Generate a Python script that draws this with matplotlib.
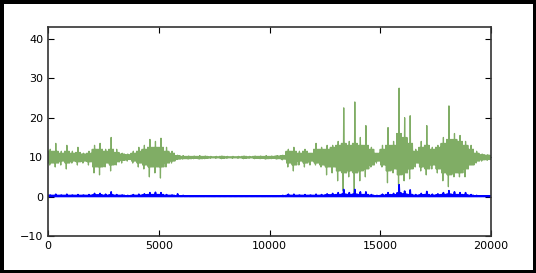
import numpy as np
import matplotlib.pyplot as plt

# envelope values, one per 250-step bin (0 .. 20000)
x_step = 250
green_peak_hi = [12, 13.5, 11.5, 13, 11.5, 12.5, 11, 11.5, 13, 13.5, 12, 15, 12, 11, 10.8, 11.5,
                 12.5, 13, 14.5, 14, 14.8, 12.5, 11.5, 10.5,
                 10.4, 10.3, 10.3, 10.4, 10.3, 10.2, 10.2, 10.3, 10.2, 10.2, 10.2, 10.3, 10.2,
                 10.3, 10.3, 10.4, 10.3, 10.4, 10.5,
                 12, 12.5, 11.5, 12, 11, 13.5, 12.5, 13, 13, 14, 22.5, 14, 24, 15, 18, 12.5, 11,
                 13, 17.5, 14, 27.5, 20, 20.5, 12, 14, 18, 12.5, 13, 15, 23, 16, 15.5, 14, 13,
                 11.5, 10.8, 10.6, 10.5]
green_band_hi = [11.5, 11.5, 11, 11.5, 11, 11.2, 10.8, 11, 12, 12, 11.5, 12, 11.2, 10.8, 10.6, 11,
                 11.5, 12, 12.5, 12.5, 12.5, 11.5, 11, 10.4,
                 10.2, 10.2, 10.2, 10.2, 10.2, 10.1, 10.1, 10.2, 10.1, 10.1, 10.1, 10.2, 10.1,
                 10.2, 10.2, 10.2, 10.2, 10.3, 10.4,
                 11.5, 11.5, 11, 11.5, 11, 12, 12, 12, 12.5, 13, 13.5, 13, 13.5, 13, 13, 12, 11,
                 12, 13, 13, 16, 15, 13.5, 11.5, 12.5, 13, 12, 12.5, 13.5, 14.5, 14.5, 14, 13, 12,
                 11, 10.6, 10.5, 10.4]
green_band_lo = [8.5, 8.5, 9, 8.5, 9, 8.8, 9, 8.8, 7.5, 7.5, 8.5, 8, 8.8, 9.2, 9.4, 9,
                 8.5, 8, 7.5, 7.5, 7.5, 8.5, 9, 9.5,
                 9.6, 9.6, 9.7, 9.6, 9.7, 9.8, 9.8, 9.7, 9.8, 9.8, 9.8, 9.7, 9.8,
                 9.7, 9.7, 9.6, 9.7, 9.6, 9.5,
                 8.5, 8, 9, 8.5, 9, 8.5, 8, 7.5, 7.5, 6.5, 6, 6.5, 6, 6.5, 7, 8, 9,
                 8, 6.5, 7, 5.5, 6, 7, 8.5, 7.5, 7, 8, 7, 6, 5.5, 6, 6, 7, 8,
                 9, 9.3, 9.4, 9.5]
green_peak_lo = [8, 7.5, 8, 7, 8.5, 8, 8.5, 8, 6, 5.5, 7.5, 6.5, 8, 8.5, 9, 8.5,
                 7.5, 7, 5, 6, 4.7, 7.5, 8.5, 9.4,
                 9.5, 9.5, 9.6, 9.5, 9.6, 9.7, 9.7, 9.6, 9.7, 9.7, 9.7, 9.6, 9.7,
                 9.6, 9.6, 9.5, 9.6, 9.5, 9.3,
                 7.5, 6.5, 8, 7.5, 8, 8, 7.5, 5.5, 6, 4, 1.5, 5, 0.5, 4, 5, 7.5, 8.5,
                 7.5, 3.5, 6, 3, 4, 4.5, 7.5, 6.5, 5.5, 7, 6, 4, 2.5, 5, 5, 5, 8,
                 8.5, 9, 9.2, 9.3]
blue_peak_hi = [0.4, 0.6, 0.4, 0.6, 0.4, 0.5, 0.4, 0.5, 0.8, 0.8, 0.6, 1.2, 0.5, 0.4, 0.3, 0.5,
                0.6, 0.7, 1.0, 1.1, 1.0, 0.5, 0.4, 0.7,
                0.3, 0.2, 0.2, 0.2, 0.2, 0.2, 0.2, 0.2, 0.2, 0.2, 0.2, 0.2, 0.2,
                0.2, 0.2, 0.2, 0.2, 0.2, 0.3,
                0.6, 0.6, 0.4, 0.5, 0.4, 0.6, 0.5, 0.7, 0.8, 1.0, 1.8, 1.0, 1.8, 1.2, 1.2, 0.5, 0.3,
                0.6, 1.0, 0.8, 3.0, 1.4, 1.7, 0.5, 0.8, 1.3, 0.6, 0.7, 1.0, 1.5, 1.2, 1.0, 1.0, 0.5,
                0.3, 0.2, 0.2, 0.2]
blue_band_hi = [0.3, 0.3, 0.3, 0.3, 0.3, 0.3, 0.3, 0.3, 0.4, 0.4, 0.3, 0.4, 0.3, 0.3, 0.2, 0.3,
                0.3, 0.4, 0.5, 0.5, 0.5, 0.3, 0.3, 0.2,
                0.15, 0.15, 0.15, 0.15, 0.15, 0.15, 0.15, 0.15, 0.15, 0.15, 0.15, 0.15, 0.15,
                0.15, 0.15, 0.15, 0.15, 0.15, 0.2,
                0.3, 0.3, 0.3, 0.3, 0.3, 0.3, 0.3, 0.4, 0.4, 0.5, 0.6, 0.5, 0.6, 0.5, 0.5, 0.3, 0.2,
                0.3, 0.5, 0.4, 0.9, 0.6, 0.5, 0.3, 0.4, 0.5, 0.3, 0.4, 0.5, 0.6, 0.5, 0.5, 0.4, 0.3,
                0.2, 0.15, 0.15, 0.15]
blue_lo = [0.0] * len(blue_peak_hi)

# each bin is drawn as 5 up/down swings: one reaches the peak, the rest the usual band
n_swing = 5
x, green, blue = [], [], []
for i in range(len(green_peak_hi)):
    for k in range(n_swing):
        step = x_step / (2 * n_swing)
        x += [i * x_step + 2 * k * step, i * x_step + (2 * k + 1) * step]
        green += [green_peak_hi[i] if k == 2 else green_band_hi[i],
                  green_peak_lo[i] if k == 1 else green_band_lo[i]]
        blue += [blue_peak_hi[i] if k == 2 else blue_band_hi[i], blue_lo[i]]

fig = plt.figure(figsize=(5.36, 2.73), dpi=100, edgecolor='black', linewidth=5)
ax = fig.add_axes([0.0896, 0.1355, 0.8265, 0.7655])

ax.plot(x, green, color='#80ad65', linewidth=0.9)
ax.plot(x, blue, color='#0000ff', linewidth=1.2)

ax.set_xlim(0, 20000)
ax.set_ylim(-10, 43)
ax.set_xticks([0, 5000, 10000, 15000, 20000])
ax.set_yticks([-10, 0, 10, 20, 30, 40])
ax.tick_params(direction='in', top=True, right=True, length=4, labelsize=8)
for s in ax.spines.values():
    s.set_linewidth(1.2)
    s.set_color('#333333')

fig.savefig('out.png', dpi=100, edgecolor=fig.get_edgecolor())
